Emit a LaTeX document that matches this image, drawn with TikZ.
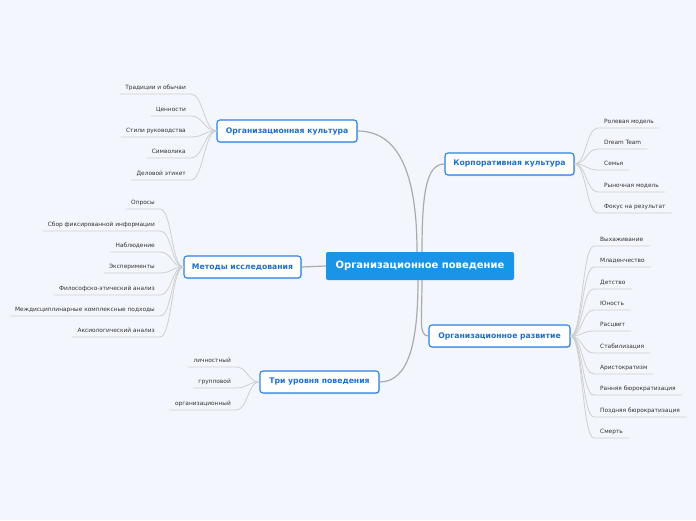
\documentclass[tikz,border=0pt]{standalone}
\usepackage{fontspec}
\setmainfont{DejaVu Sans}
\usetikzlibrary{shadows}
\definecolor{paper}{HTML}{F3F6FD}
\definecolor{rootblue}{HTML}{1A94E6}
\definecolor{topicblue}{HTML}{2A82E4}
\definecolor{topictext}{HTML}{1F6FD0}
\definecolor{leaftext}{HTML}{333333}
\definecolor{branchgray}{HTML}{ABABAB}
\definecolor{twiggray}{HTML}{CFCFCF}

\begin{document}
\begin{tikzpicture}[
  x=1pt,y=-1pt,
  root/.style={fill=rootblue,rounded corners=2pt,minimum width=188pt,minimum height=28pt,text=white,font=\bfseries\fontsize{10}{12}\selectfont},
  topic/.style={draw=topicblue,line width=1.1pt,fill=white,rounded corners=3pt,minimum height=22pt,text=topictext,font=\bfseries\fontsize{7.7}{9}\selectfont,drop shadow={shadow xshift=1pt,shadow yshift=-1pt,opacity=.25}},
  leafL/.style={anchor=south east,inner xsep=5pt,inner ysep=2.5pt,text height=5pt,text depth=1.5pt,text=leaftext,font=\fontsize{5.85}{7}\selectfont},
  leafR/.style={leafL,anchor=south west,inner xsep=6pt},
  branch/.style={draw=branchgray,line width=1.2pt},
  twig/.style={draw=twiggray,line width=.8pt}
]
\fill[paper] (0,0) rectangle (696,520);
\useasboundingbox (0,0) rectangle (696,520);

% centre and topics
\node[root] (root) at (420,266) {Организационное поведение};
\node[topic,minimum width=140pt] (oc) at (287,131) {Организационная культура};
\node[topic,minimum width=129pt] (cc) at (509.5,164) {Корпоративная культура};
\node[topic,minimum width=117pt] (mi) at (242.5,267) {Методы исследования};
\node[topic,minimum width=141pt] (od) at (499.5,336) {Организационное развитие};
\node[topic,minimum width=119pt] (tl) at (319.5,382) {Три уровня поведения};

\draw[branch] (oc.east) .. controls +(45,0) and +(0,-70) .. ([xshift=-3pt]root.north);
\draw[branch] ([xshift=2pt]root.north) .. controls +(0,-60) and +(-18,0) .. (cc.west);
\draw[branch] (root.west) -- (mi.east);
\draw[branch] ([xshift=2pt]root.south) .. controls +(0,40) and +(-10,0) .. (od.west);
\draw[branch] ([xshift=-2pt]root.south) .. controls +(0,60) and +(30,0) .. (tl.east);

% Организационная культура
\node[leafL] (oc1) at (191,94) {Традиции и обычаи};
\node[leafL] (oc2) at (191,116) {Ценности};
\node[leafL] (oc3) at (191,137) {Стили руководства};
\node[leafL] (oc4) at (191,158) {Символика};
\node[leafL] (oc5) at (191,180) {Деловой этикет};
\draw[twig] (oc1.south west) -- (oc1.south east) .. controls +(12,0) and +(-12,0) .. (oc.west);
\draw[twig] (oc2.south west) -- (oc2.south east) .. controls +(12,0) and +(-12,0) .. (oc.west);
\draw[twig] (oc3.south west) -- (oc3.south east) .. controls +(12,0) and +(-12,0) .. (oc.west);
\draw[twig] (oc4.south west) -- (oc4.south east) .. controls +(12,0) and +(-12,0) .. (oc.west);
\draw[twig] (oc5.south west) -- (oc5.south east) .. controls +(12,0) and +(-12,0) .. (oc.west);

% Методы исследования
\node[leafL] (mi1) at (160,209) {Опросы};
\node[leafL] (mi2) at (160,231) {Сбор фиксированной информации};
\node[leafL] (mi3) at (160,252) {Наблюдение};
\node[leafL] (mi4) at (160,273) {Эксперименты};
\node[leafL] (mi5) at (160,295) {Философско-этический анализ};
\node[leafL] (mi6) at (160,316) {Междисциплинарные комплексные подходы};
\node[leafL] (mi7) at (160,337) {Аксиологический анализ};
\draw[twig] (mi1.south west) -- (mi1.south east) .. controls +(12,0) and +(-12,0) .. (mi.west);
\draw[twig] (mi2.south west) -- (mi2.south east) .. controls +(12,0) and +(-12,0) .. (mi.west);
\draw[twig] (mi3.south west) -- (mi3.south east) .. controls +(12,0) and +(-12,0) .. (mi.west);
\draw[twig] (mi4.south west) -- (mi4.south east) .. controls +(12,0) and +(-12,0) .. (mi.west);
\draw[twig] (mi5.south west) -- (mi5.south east) .. controls +(12,0) and +(-12,0) .. (mi.west);
\draw[twig] (mi6.south west) -- (mi6.south east) .. controls +(12,0) and +(-12,0) .. (mi.west);
\draw[twig] (mi7.south west) -- (mi7.south east) .. controls +(12,0) and +(-12,0) .. (mi.west);

% Три уровня поведения
\node[leafL] (tl1) at (236,367) {личностный};
\node[leafL] (tl2) at (236,388) {групповой};
\node[leafL] (tl3) at (236,410) {организационный};
\draw[twig] (tl1.south west) -- (tl1.south east) .. controls +(12,0) and +(-12,0) .. (tl.west);
\draw[twig] (tl2.south west) -- (tl2.south east) .. controls +(12,0) and +(-12,0) .. (tl.west);
\draw[twig] (tl3.south west) -- (tl3.south east) .. controls +(12,0) and +(-12,0) .. (tl.west);

% Корпоративная культура
\node[leafR] (cc1) at (598,128) {Ролевая модель};
\node[leafR] (cc2) at (598,149) {Dream Team};
\node[leafR] (cc3) at (598,170) {Семья};
\node[leafR] (cc4) at (598,192) {Рыночная модель};
\node[leafR] (cc5) at (598,213) {Фокус на результат};
\draw[twig] (cc.east) .. controls +(12,0) and +(-12,0) .. (cc1.south west) -- (cc1.south east);
\draw[twig] (cc.east) .. controls +(12,0) and +(-12,0) .. (cc2.south west) -- (cc2.south east);
\draw[twig] (cc.east) .. controls +(12,0) and +(-12,0) .. (cc3.south west) -- (cc3.south east);
\draw[twig] (cc.east) .. controls +(12,0) and +(-12,0) .. (cc4.south west) -- (cc4.south east);
\draw[twig] (cc.east) .. controls +(12,0) and +(-12,0) .. (cc5.south west) -- (cc5.south east);

% Организационное развитие
\node[leafR] (od1) at (594,246) {Выхаживание};
\node[leafR] (od2) at (594,267) {Младенчество};
\node[leafR] (od3) at (594,289) {Детство};
\node[leafR] (od4) at (594,310) {Юность};
\node[leafR] (od5) at (594,331) {Расцвет};
\node[leafR] (od6) at (594,353) {Стабилизация};
\node[leafR] (od7) at (594,374) {Аристократизм};
\node[leafR] (od8) at (594,395) {Ранняя бюрократизация};
\node[leafR] (od9) at (594,417) {Поздняя бюрократизация};
\node[leafR] (od10) at (594,438) {Смерть};
\draw[twig] (od.east) .. controls +(12,0) and +(-12,0) .. (od1.south west) -- (od1.south east);
\draw[twig] (od.east) .. controls +(12,0) and +(-12,0) .. (od2.south west) -- (od2.south east);
\draw[twig] (od.east) .. controls +(12,0) and +(-12,0) .. (od3.south west) -- (od3.south east);
\draw[twig] (od.east) .. controls +(12,0) and +(-12,0) .. (od4.south west) -- (od4.south east);
\draw[twig] (od.east) .. controls +(12,0) and +(-12,0) .. (od5.south west) -- (od5.south east);
\draw[twig] (od.east) .. controls +(12,0) and +(-12,0) .. (od6.south west) -- (od6.south east);
\draw[twig] (od.east) .. controls +(12,0) and +(-12,0) .. (od7.south west) -- (od7.south east);
\draw[twig] (od.east) .. controls +(12,0) and +(-12,0) .. (od8.south west) -- (od8.south east);
\draw[twig] (od.east) .. controls +(12,0) and +(-12,0) .. (od9.south west) -- (od9.south east);
\draw[twig] (od.east) .. controls +(12,0) and +(-12,0) .. (od10.south west) -- (od10.south east);
\end{tikzpicture}
\end{document}
